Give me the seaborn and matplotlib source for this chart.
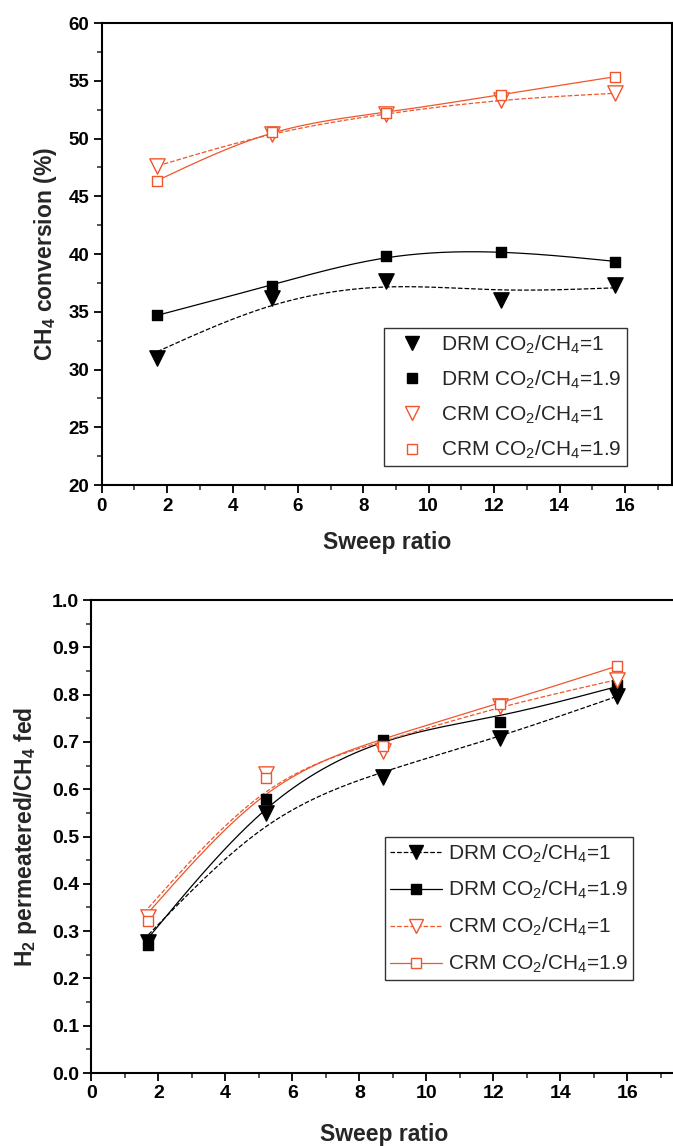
import numpy as np
import pandas as pd
import matplotlib
matplotlib.use("Agg")
import matplotlib.pyplot as plt
from matplotlib.lines import Line2D
from matplotlib.ticker import MultipleLocator
import seaborn as sns

sns.set_theme(style="ticks")
plt.rcParams['font.family'] = ['Liberation Sans', 'DejaVu Sans']
plt.rcParams['mathtext.default'] = 'regular'

# ---- data ----
sweep = [1.7, 5.2, 8.7, 12.2, 15.7]
labels = ["DRM CO$_2$/CH$_4$=1", "DRM CO$_2$/CH$_4$=1.9",
          "CRM CO$_2$/CH$_4$=1", "CRM CO$_2$/CH$_4$=1.9"]

conv_drm1 = [31.0, 36.2, 37.7, 36.0, 37.3]
conv_drm19 = [34.7, 37.2, 39.85, 40.15, 39.3]
conv_crm1 = [47.6, 50.4, 52.1, 53.3, 53.9]
conv_crm19 = [46.3, 50.6, 52.2, 53.8, 55.35]

h2_drm1 = [0.277, 0.549, 0.626, 0.708, 0.798]
h2_drm19 = [0.27, 0.58, 0.703, 0.742, 0.82]
h2_crm1 = [0.33, 0.632, 0.68, 0.776, 0.83]
h2_crm19 = [0.321, 0.623, 0.691, 0.78, 0.861]

RED = '#F0552B'
styles = [
    dict(marker='v', color='black', fc='black', ls='--', ms=11),
    dict(marker='s', color='black', fc='black', ls='-', ms=7.5),
    dict(marker='v', color=RED, fc='white', ls='--', ms=11),
    dict(marker='s', color=RED, fc='white', ls='-', ms=7.5),
]

fig = plt.figure(figsize=(6.73, 11.46), dpi=100)
ax1 = fig.add_axes([101.8/673, 1-485/1146, (672-101.8)/673, (485-23)/1146])
ax2 = fig.add_axes([91.4/673, 1-1073/1146, 17.5*33.5/673, (1073-600)/1146])


def smooth_curve(x, y, lam=1.0, step=0.05):
    """Cubic smoothing spline (penalised least squares on a fine grid)."""
    x = np.asarray(x, float)
    y = np.asarray(y, float)
    n = int(round((x.max() - x.min()) / step)) + 1
    xs = np.linspace(x.min(), x.max(), n)
    idx = np.rint((x - x.min()) / step).astype(int)
    W = np.zeros(n)
    W[idx] = 1.0
    z = np.zeros(n)
    z[idx] = y
    D = np.diff(np.eye(n), 2, axis=0)
    A = np.diag(W) + (lam / step**3) * D.T @ D
    ys = np.linalg.solve(A, W * z)
    return pd.DataFrame({'x': xs, 'y': ys})


def draw(ax, series, lams):
    for y, st, lam in zip(series, styles, lams):
        fit = smooth_curve(sweep, y, lam)
        sns.lineplot(data=fit, x='x', y='y', ax=ax, color=st['color'],
                     lw=0.9, ls=st['ls'], sort=False, estimator=None)
    for y, st in zip(series, styles):
        df = pd.DataFrame({'x': sweep, 'y': y})
        sns.scatterplot(data=df, x='x', y='y', ax=ax, marker=st['marker'],
                        s=st['ms']**2, color=st['fc'], edgecolor=st['color'],
                        linewidth=1.0, zorder=5, legend=False)


draw(ax1, [conv_drm1, conv_drm19, conv_crm1, conv_crm19], [8.0, 2.0, 0.8, 0.8])
draw(ax2, [h2_drm1, h2_drm19, h2_crm1, h2_crm19], [4.0, 4.0, 4.0, 4.0])


def style_axes(ax, xmax, ylim, ymaj, ymin, fmt, tsize, lpad):
    ax.set_xlim(0, xmax)
    ax.set_ylim(*ylim)
    ax.xaxis.set_major_locator(MultipleLocator(2))
    ax.xaxis.set_minor_locator(MultipleLocator(1))
    ax.yaxis.set_major_locator(MultipleLocator(ymaj))
    ax.yaxis.set_minor_locator(MultipleLocator(ymin))
    ax.tick_params(which='major', direction='out', length=6, width=1.3,
                   labelsize=tsize, colors='black', pad=3)
    ax.tick_params(which='minor', direction='out', length=3.5, width=1.1)
    for sp in ax.spines.values():
        sp.set_visible(True)
        sp.set_linewidth(1.5)
        sp.set_color('black')
    ax.yaxis.set_major_formatter(plt.FormatStrFormatter(fmt))
    for lab in ax.get_xticklabels() + ax.get_yticklabels():
        lab.set_fontweight('bold')
    ax.set_xlabel('Sweep ratio', fontsize=16.5, fontweight='bold', labelpad=lpad)


style_axes(ax1, 17.44, (20, 60), 5, 2.5, '%d', 13.5, 12)
style_axes(ax2, 17.5, (0, 1.0), 0.1, 0.05, '%.1f', 14, 15)
ax1.set_ylabel('CH$_4$ conversion (%)', fontsize=16.5, fontweight='bold', labelpad=7)
ax2.set_ylabel('H$_2$ permeatered/CH$_4$ fed', fontsize=16.5, fontweight='bold', labelpad=9)

h1 = [Line2D([], [], ls='none', marker=st['marker'], mfc=st['fc'],
             mec=st['color'], ms=st['ms'] * 0.9, color=st['color'])
      for st in styles]
leg1 = ax1.legend(h1, labels, loc='upper left',
                  bbox_to_anchor=((384 - 101.8) / 570.2, 1 - (328 - 23) / 462),
                  borderaxespad=0, frameon=True, fancybox=False,
                  edgecolor='black', fontsize=15, handlelength=2.2,
                  handletextpad=0.3, borderpad=0.25, labelspacing=0.62)
leg1.get_frame().set_linewidth(1.0)

h2 = [Line2D([], [], ls=st['ls'], lw=0.9, marker=st['marker'], mfc=st['fc'],
             mec=st['color'], ms=st['ms'] * 0.9, color=st['color'])
      for st in styles]
leg2 = ax2.legend(h2, labels, loc='upper left',
                  bbox_to_anchor=((385 - 91.4) / (17.5 * 33.5), 1 - (837 - 600) / 473),
                  borderaxespad=0, frameon=True, fancybox=False,
                  edgecolor='black', fontsize=15, handlelength=2.5,
                  handletextpad=0.25, borderpad=0.25, labelspacing=0.7)
leg2.get_frame().set_linewidth(1.0)

fig.savefig('out.png', dpi=100)
